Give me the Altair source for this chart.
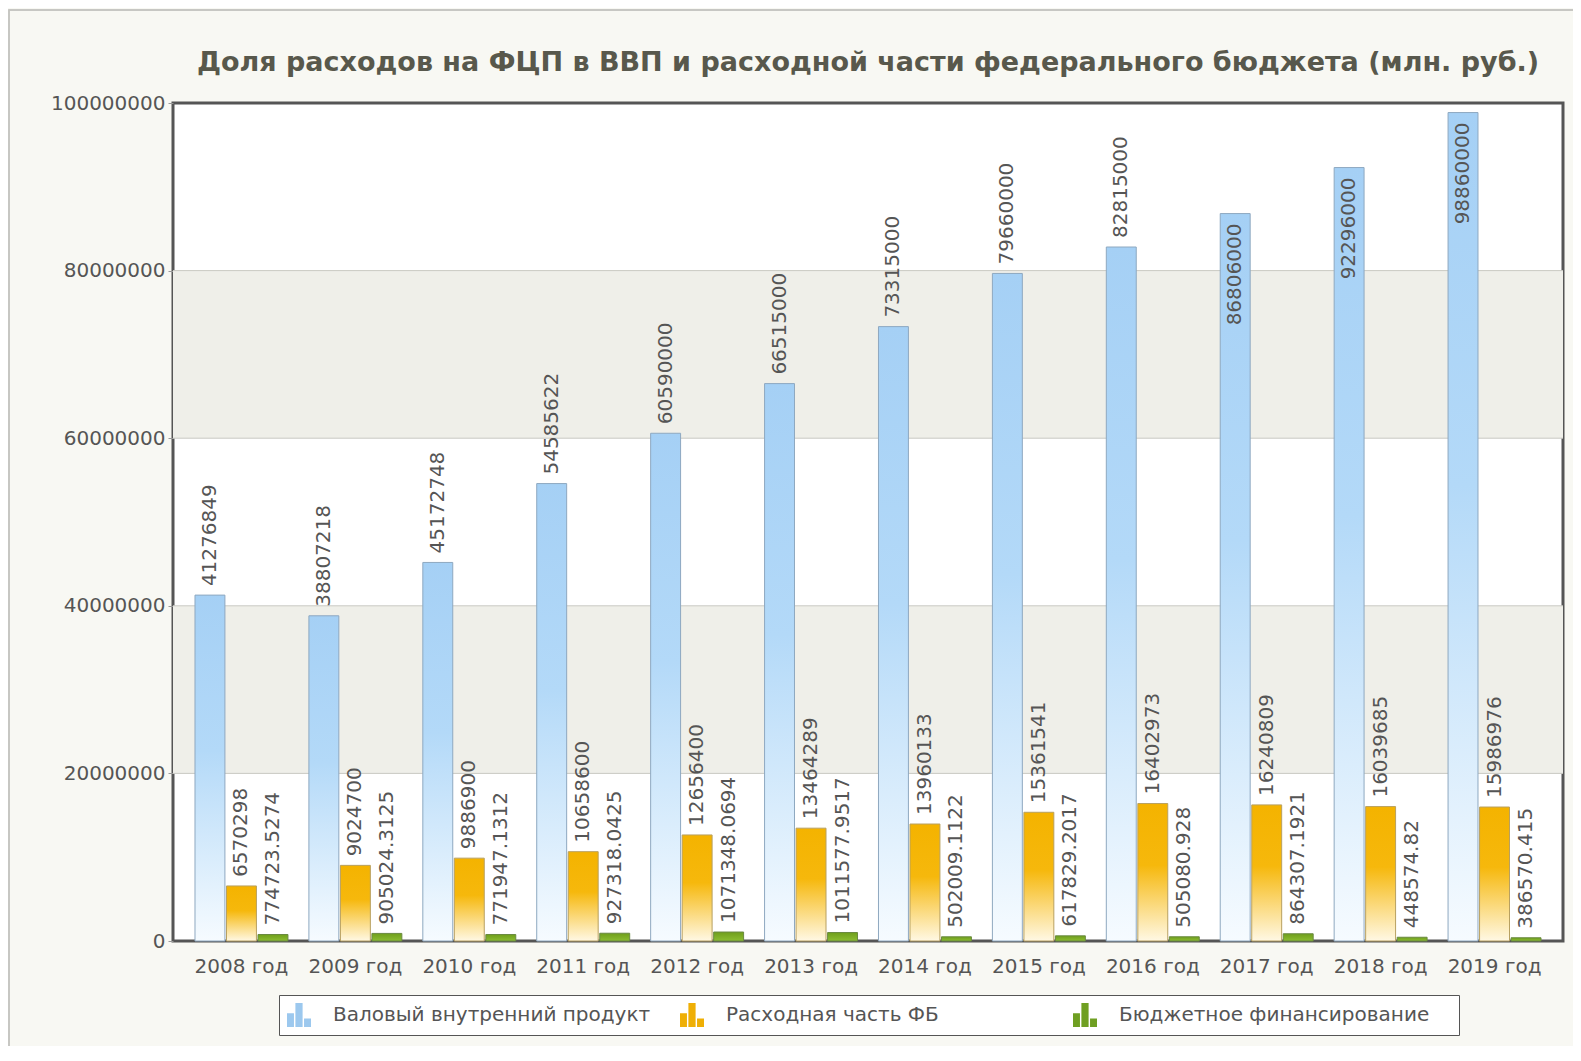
import altair as alt
import pandas as pd

years = ["2008 год", "2009 год", "2010 год", "2011 год", "2012 год", "2013 год",
         "2014 год", "2015 год", "2016 год", "2017 год", "2018 год", "2019 год"]
series_names = ["Валовый внутренний продукт", "Расходная часть ФБ", "Бюджетное финансирование"]
gdp = [41276849, 38807218, 45172748, 54585622, 60590000, 66515000,
       73315000, 79660000, 82815000, 86806000, 92296000, 98860000]
fb = [6570298, 9024700, 9886900, 10658600, 12656400, 13464289,
      13960133, 15361541, 16402973, 16240809, 16039685, 15986976]
budget = [774723.5274, 905024.3125, 771947.1312, 927318.0425, 1071348.0694, 1011577.9517,
          502009.1122, 617829.2017, 505080.928, 864307.1921, 448574.82, 386570.415]
band_low = [20000000, 60000000]
band_high = [40000000, 80000000]
grid_values = [20000000, 40000000, 60000000, 80000000]
y_ticks = [0, 20000000, 40000000, 60000000, 80000000, 100000000]

rows = []
for i, yr in enumerate(years):
    for s, vals in zip(series_names, [gdp, fb, budget]):
        v = vals[i]
        lab = str(int(v)) if float(v).is_integer() else repr(float(v))
        rows.append({"year": yr, "series": s, "value": v, "label": lab})
df = pd.DataFrame(rows)
bands_df = pd.DataFrame({"lo": band_low, "hi": band_high})
grid_df = pd.DataFrame({"g": grid_values})

W, H = 1390, 838
PAD = {"left": 165, "top": 95, "right": 10, "bottom": 105}
FONT = "DejaVu Sans"
TXT = "#555555"

yscale = alt.Scale(domain=[0, 100000000], nice=False, zero=True)
xscale = alt.Scale(domain=years, paddingInner=0.184, paddingOuter=0.193)
xoff_scale = alt.Scale(domain=series_names, paddingInner=0.05, paddingOuter=0)

y_axis = alt.Axis(title=None, values=y_ticks, format="d", grid=False,
                  domain=False, ticks=True, tickSize=5, tickColor="#999999",
                  labelFontSize=20, labelColor=TXT, labelFont=FONT,
                  labelPadding=3)

x_enc = alt.X("year:N", sort=years, scale=xscale,
              axis=alt.Axis(title=None, labelAngle=0, ticks=False, domain=False,
                            labelFontSize=20, labelColor=TXT, labelFont=FONT,
                            labelPadding=15))
xo_enc = alt.XOffset("series:N", scale=xoff_scale, sort=series_names)
y_enc = alt.Y("value:Q", scale=yscale, axis=y_axis)

# outer frame of the chart panel (top and left edges visible)
frame = alt.Chart(bands_df).mark_rect(fill=None, stroke="#c4c4c0", strokeWidth=1.5).encode(
    x=alt.value(-PAD["left"] + 1), y=alt.value(-PAD["top"] + 2),
    x2=alt.value(W + PAD["right"] + 20), y2=alt.value(H + PAD["bottom"] + 20))

bands = alt.Chart(bands_df).mark_rect(color="#efefe9").encode(
    y=alt.Y("lo:Q", scale=yscale, axis=y_axis), y2="hi:Q",
    x=alt.value(0), x2=alt.value(W))

grid = alt.Chart(grid_df).mark_rule(color="#c9c9c3", strokeWidth=1).encode(
    y=alt.Y("g:Q", scale=yscale, axis=y_axis))

def grad(stops):
    return alt.Gradient(gradient="linear", x1=0, x2=0, y1=0, y2=1,
                        stops=[alt.GradientStop(color=c, offset=o) for o, c in stops])

blue = grad([(0, "#a5d0f5"), (0.45, "#b3d9f8"), (1, "#f6fbff")])
orange = grad([(0, "#f4b300"), (0.45, "#f6b80c"), (1, "#fff8e4")])
green = grad([(0, "#6f9e1c"), (1, "#8cbd32")])

def bar_layer(name, fill, stroke):
    return alt.Chart(df).transform_filter(alt.datum.series == name).mark_bar(
        color=fill, stroke=stroke, strokeWidth=1).encode(
        x=x_enc, xOffset=xo_enc, y=y_enc)

b1 = bar_layer(series_names[0], blue, "#8ea8c0")
b2 = bar_layer(series_names[1], orange, "#b8a060")
b3 = bar_layer(series_names[2], green, "#6a8a40")

txt_out = alt.Chart(df).transform_filter(
    (alt.datum.series != series_names[0]) | (alt.datum.value < 85000000)
).mark_text(angle=270, align="left", baseline="middle", dx=9,
            font=FONT, fontSize=20, color=TXT).encode(
    x=x_enc, xOffset=xo_enc, y=y_enc, text="label:N")

txt_in = alt.Chart(df).transform_filter(
    (alt.datum.series == series_names[0]) & (alt.datum.value >= 85000000)
).mark_text(angle=270, align="right", baseline="middle", dx=-10,
            font=FONT, fontSize=20, color=TXT).encode(
    x=x_enc, xOffset=xo_enc, y=y_enc, text="label:N")

icon = ("M-1,1 L-1,-0.15 L-0.42,-0.15 L-0.42,1 Z "
        "M-0.3,1 L-0.3,-1 L0.3,-1 L0.3,1 Z "
        "M0.42,1 L0.42,0.3 L1,0.3 L1,1 Z")

legend_layer = alt.Chart(df).mark_point(filled=True, opacity=0).encode(
    x=x_enc, y=y_enc,
    color=alt.Color("series:N", sort=series_names,
                    scale=alt.Scale(domain=series_names,
                                    range=["#9cc8ee", "#efaf05", "#6f9f22"]),
                    legend=alt.Legend(title="\u00a0", titleOrient="right",
                                      titlePadding=22, titleFontSize=20)))

chart = alt.layer(frame, bands, grid, b1, b2, b3, txt_out, txt_in, legend_layer).properties(
    width=W, height=H,
    padding=PAD,
    autosize=alt.AutoSizeParams(type="none"),
    background="#f8f8f3",
    title=alt.TitleParams(
        "Доля расходов на ФЦП в ВВП и расходной части федерального бюджета (млн. руб.)",
        font=FONT, fontSize=27, fontWeight="bold", color="#58584c", anchor="middle",
        baseline="middle", offset=-81),
).configure_view(fill="white", stroke="#555555", strokeWidth=3).configure_legend(
    orient="none", legendX=106, legendY=892, direction="horizontal", columns=3,
    gridAlign="all", columnPadding=29, symbolType=icon, symbolSize=576,
    symbolOpacity=1, symbolStrokeWidth=0, labelFont=FONT, labelFontSize=20,
    labelColor=TXT, labelOffset=22, labelLimit=500, strokeColor="#555555",
    fillColor="white", padding=8, cornerRadius=0)

chart.save("out.html", embed_options={"renderer": "svg", "actions": False})
